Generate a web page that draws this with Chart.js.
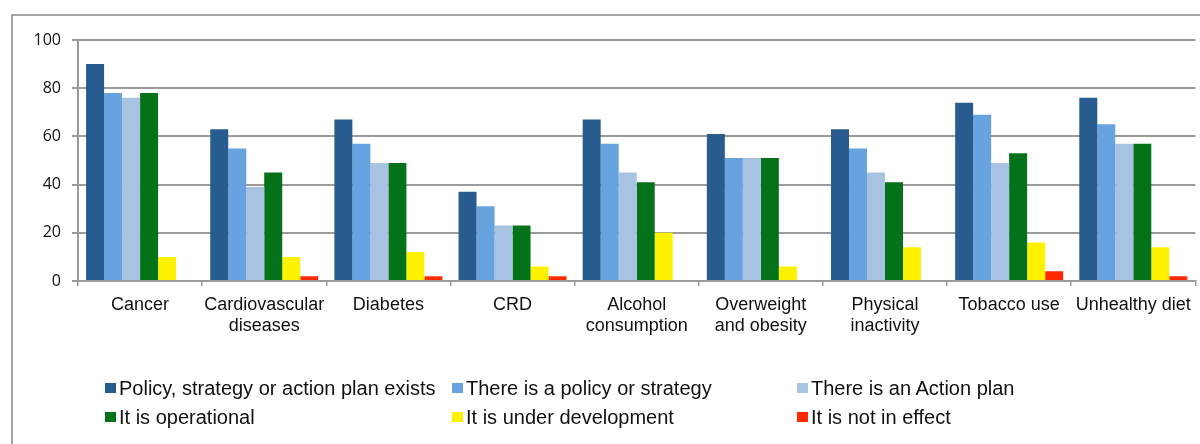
<!DOCTYPE html>
<html>
<head>
<meta charset="utf-8">
<script src="https://cdn.jsdelivr.net/npm/chart.js@4"></script>
<style>
  html, body { margin: 0; padding: 0; background: #fff; }
  #wrap { position: relative; width: 1200px; height: 444px; overflow: hidden; }
  #frame { position: absolute; left: 11px; top: 14px; width: 1200px; height: 440px;
           border-left: 2px solid #a3a3a3; border-top: 2px solid #a3a3a3; }
  #chart { position: absolute; left: 0; top: 0; }
  .lg { position: absolute; display: flex; align-items: center; height: 24px;
        font-family: "Liberation Sans", Arial, sans-serif; font-size: 20px;
        color: #111; white-space: nowrap; }
  .lg span { display: inline-block; width: 11px; height: 10px; margin-right: 3px; }
</style>
</head>
<body>
<div id="wrap">
  <div id="frame"></div>
  <canvas id="chart" width="1200" height="444"></canvas>
  <div id="legend"></div>
</div>
<script>
const categories = [
  "Cancer",
  ["Cardiovascular", "diseases"],
  "Diabetes",
  "CRD",
  ["Alcohol", "consumption"],
  ["Overweight", "and obesity"],
  ["Physical", "inactivity"],
  "Tobacco use",
  "Unhealthy diet"
];

const seriesNames = [
  "Policy, strategy or action plan exists",
  "There is a policy or strategy",
  "There is an Action plan",
  "It is operational",
  "It is under development",
  "It is not in effect"
];

const planExists   = [90, 63, 67, 37, 67, 61, 63, 74, 76];
const policyExists = [78, 55, 57, 31, 57, 51, 55, 69, 65];
const actionPlan   = [76, 39, 49, 23, 45, 51, 45, 49, 57];
const operational  = [78, 45, 49, 23, 41, 51, 41, 53, 57];
const underDev     = [10, 10, 12, 6, 20, 6, 14, 16, 14];
const notInEffect  = [0, 2, 2, 2, 0, 0, 0, 4, 2];

const yTicks = [0, 20, 40, 60, 80, 100];

const colors = ["#285c8f", "#67a3de", "#a8c2e1", "#037219", "#fff200", "#ff2a00"];
const seriesValues = [planExists, policyExists, actionPlan, operational, underDev, notInEffect];

const gridGray = "#9b9b9b";

new Chart(document.getElementById("chart"), {
    type: "bar",
    data: {
        labels: categories,
        datasets: seriesValues.map((vals, i) => ({
            label: seriesNames[i],
            data: vals,
            backgroundColor: colors[i],
            categoryPercentage: 0.87,
            barPercentage: 1.0
        }))
    },
    options: {
        responsive: false,
        animation: false,
        layout: {
            padding: { top: 40, right: 3, bottom: 0, left: 0 }
        },
        plugins: {
            legend: { display: false },
            tooltip: { enabled: false }
        },
        scales: {
            x: {
                grid: {
                    display: true,
                    drawOnChartArea: false,
                    drawTicks: true,
                    tickLength: 5,
                    color: gridGray,
                    lineWidth: 1.5
                },
                border: { color: gridGray, width: 2 },
                ticks: {
                    color: "#111",
                    padding: 9,
                    maxRotation: 0,
                    autoSkip: false,
                    font: { family: "'Liberation Sans', Arial, sans-serif", size: 18, lineHeight: 1.15 }
                },
                afterFit: s => { s.height = 163; }
            },
            y: {
                min: 0,
                max: 100,
                afterBuildTicks: s => { s.ticks = yTicks.map(v => ({ value: v })); },
                grid: {
                    color: gridGray,
                    lineWidth: 2,
                    tickLength: 6
                },
                border: { color: gridGray, width: 2 },
                ticks: {
                    color: "#111",
                    padding: 11,
                    font: { family: "'Open Sans', sans-serif", size: 16 }
                },
                afterFit: s => { s.width = 78; }
            }
        }
    }
});

// legend in three columns, two rows
const legendCols = [105, 452, 797];
const legendRows = [376, 405];
const legendEl = document.getElementById("legend");
seriesNames.forEach((name, i) => {
    const d = document.createElement("div");
    d.className = "lg";
    d.style.left = legendCols[i % 3] + "px";
    d.style.top = legendRows[Math.floor(i / 3)] + "px";
    d.innerHTML = '<span style="background:' + colors[i] + '"></span>' + name;
    legendEl.appendChild(d);
});
</script>
</body>
</html>
